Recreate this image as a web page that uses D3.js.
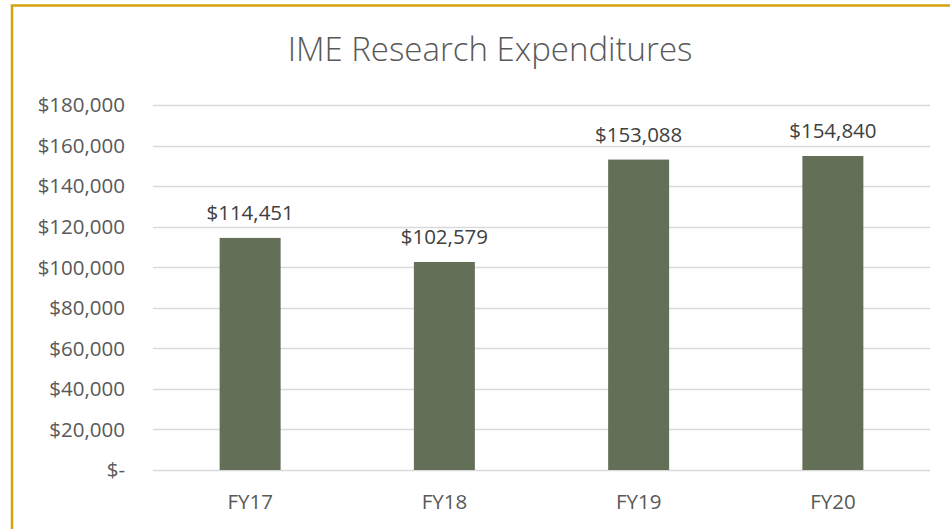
<!DOCTYPE html>
<html>
<head>
<meta charset="utf-8">
<script src="https://cdn.jsdelivr.net/npm/d3@7"></script>
<style>
  body { margin: 0; background: #fff; }
  text { font-family: "Open Sans", "DejaVu Sans", sans-serif; }
</style>
</head>
<body>
<script>
// chart data
const years = ["FY17", "FY18", "FY19", "FY20"];
const spend = [114451, 102579, 153088, 154840];
const yTicks = [0, 20000, 40000, 60000, 80000, 100000, 120000, 140000, 160000, 180000];

const width = 950, height = 529;

let svg = d3.select("body").append("svg")
  .attr("width", width)
  .attr("height", height);

// chart area frame (only top + left edges show in the picture)
svg.append("path")
  .attr("d", "M12,529 V5.5 H950")
  .attr("fill", "none")
  .attr("stroke", "#D4A20C")
  .attr("stroke-width", 2.5);

let x = d3.scaleBand()
  .domain(years)
  .range([153, 930])
  .paddingInner(0.686)
  .paddingOuter(0.343);

let y = d3.scaleLinear()
  .domain([0, 180000])
  .range([470, 105]);

const money = d3.format("$,");

// gridlines
svg.append("g")
  .selectAll("line")
  .data(yTicks)
  .join("line")
  .attr("x1", 153)
  .attr("x2", 930)
  .attr("y1", d => Math.round(y(d)) + 0.5)
  .attr("y2", d => Math.round(y(d)) + 0.5)
  .attr("stroke", "#D9D9D9")
  .attr("stroke-width", 1.5);

// y labels
svg.append("g")
  .selectAll("text")
  .data(yTicks)
  .join("text")
  .attr("x", 125)
  .attr("y", d => y(d))
  .attr("dy", "0.36em")
  .attr("text-anchor", "end")
  .attr("fill", "#595959")
  .attr("font-size", 20.5)
  .text(d => d === 0 ? "$-" : money(d));

// bars
svg.append("g")
  .selectAll("rect")
  .data(years)
  .join("rect")
  .attr("x", d => x(d))
  .attr("width", x.bandwidth())
  .attr("y", (d, i) => y(spend[i]))
  .attr("height", (d, i) => y(0) - y(spend[i]))
  .attr("fill", "#646F58");

// value labels
svg.append("g")
  .selectAll("text")
  .data(years)
  .join("text")
  .attr("x", d => x(d) + x.bandwidth() / 2)
  .attr("y", (d, i) => y(spend[i]) - 18)
  .attr("text-anchor", "middle")
  .attr("fill", "#404040")
  .attr("font-size", 20.5)
  .text((d, i) => money(spend[i]));

// x labels
svg.append("g")
  .selectAll("text")
  .data(years)
  .join("text")
  .attr("x", d => x(d) + x.bandwidth() / 2)
  .attr("y", 509)
  .attr("text-anchor", "middle")
  .attr("fill", "#595959")
  .attr("font-size", 20.5)
  .text(d => d);

// title
svg.append("text")
  .attr("x", 490)
  .attr("y", 61)
  .attr("text-anchor", "middle")
  .attr("fill", "#595959")
  .attr("font-size", 33)
  .attr("font-weight", 300)
  .text("IME Research Expenditures");
</script>
</body>
</html>
